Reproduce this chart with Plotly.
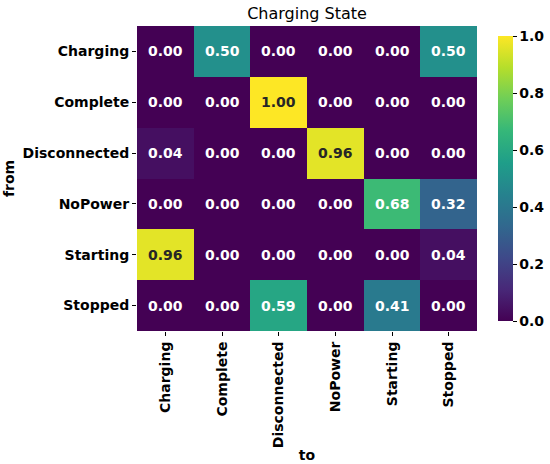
import plotly.graph_objects as go

states = ["Charging", "Complete", "Disconnected", "NoPower", "Starting", "Stopped"]
probs = [
    [0.00, 0.50, 0.00, 0.00, 0.00, 0.50],
    [0.00, 0.00, 1.00, 0.00, 0.00, 0.00],
    [0.04, 0.00, 0.00, 0.96, 0.00, 0.00],
    [0.00, 0.00, 0.00, 0.00, 0.68, 0.32],
    [0.96, 0.00, 0.00, 0.00, 0.00, 0.04],
    [0.00, 0.00, 0.59, 0.00, 0.41, 0.00],
]
cbar_ticks = [0, 0.2, 0.4, 0.6, 0.8, 1.0]

FONT = "DejaVu Sans"
FS = 14

fig = go.Figure(go.Heatmap(
    z=probs, x=states, y=states,
    colorscale="Viridis", zmin=0, zmax=1,
    colorbar=dict(
        x=1.0, xref="paper", xanchor="left", xpad=21,
        thickness=15, len=1, lenmode="fraction", y=0.5, yanchor="middle",
        outlinewidth=0, tickvals=cbar_ticks,
        ticktext=["<b>%.1f</b>" % v for v in cbar_ticks],
        ticks="outside", ticklen=4, tickcolor="black",
        tickfont=dict(family=FONT, size=FS, color="black"),
    ),
))

# cell labels, dark text on bright cells like seaborn
for i, row in enumerate(probs):
    for j, v in enumerate(row):
        fig.add_annotation(
            x=states[j], y=states[i], text="<b>%.2f</b>" % v, showarrow=False,
            font=dict(family=FONT, size=FS, color="#262626" if v > 0.8 else "white"),
        )

fig.update_xaxes(
    tickvals=states, ticktext=["<b>%s</b>" % s for s in states],
    tickangle=-90, ticks="outside", ticklen=4, tickcolor="black",
    tickfont=dict(family=FONT, size=FS, color="black"),
    title=dict(text="<b>to</b>", font=dict(family=FONT, size=FS, color="black"), standoff=2),
    showgrid=False, zeroline=False, automargin=False,
)
fig.update_yaxes(
    tickvals=states, ticktext=["<b>%s</b>" % s for s in states],
    autorange="reversed", ticks="outside", ticklen=4, tickcolor="black",
    tickfont=dict(family=FONT, size=FS, color="black"),
    title=dict(text="<b>from</b>", font=dict(family=FONT, size=FS, color="black"), standoff=4),
    showgrid=False, zeroline=False, automargin=False,
)
fig.update_layout(
    width=550, height=464,
    margin=dict(l=137, r=73, t=26, b=133, autoexpand=False),
    paper_bgcolor="white", plot_bgcolor="white",
    title=dict(text="Charging State", x=0.5, xref="paper", xanchor="center",
               y=0.972, yanchor="middle",
               font=dict(family=FONT, size=16, color="black")),
)

# drop the default page margin so the figure sits at the window's corner
fig.write_html("out.html", config={"displayModeBar": False},
               post_script="document.body.style.margin='0';")
